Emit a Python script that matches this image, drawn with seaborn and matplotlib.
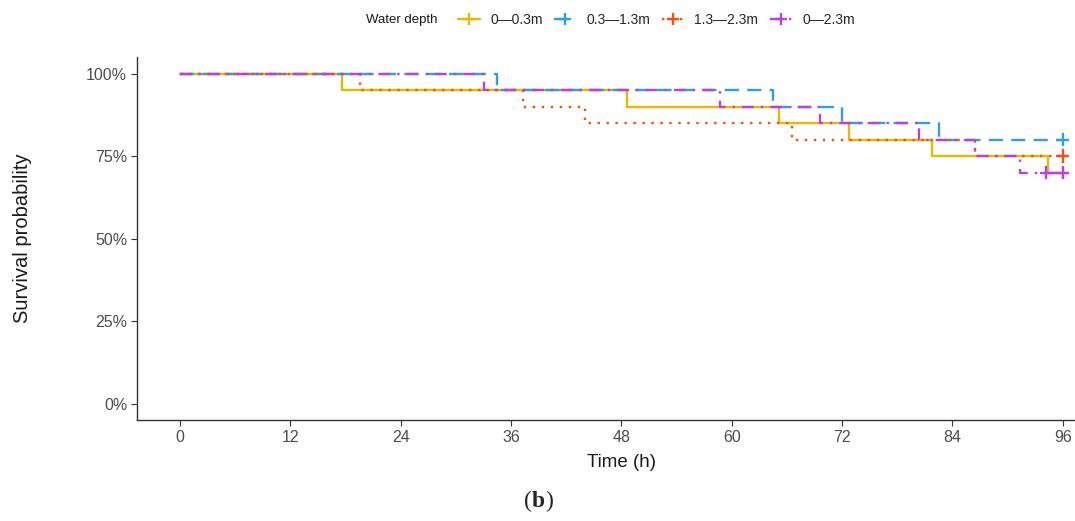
import numpy as np
import pandas as pd
import matplotlib
matplotlib.use("Agg")
import matplotlib.pyplot as plt
from matplotlib.lines import Line2D
import seaborn as sns

# Kaplan-Meier step curves: event times (h) and survival (%) per water-depth group
groups = ["0\u20140.3m", "0.3\u20141.3m", "1.3\u20142.3m", "0\u20142.3m"]

time_a = [0, 17.6, 48.6, 65.1, 72.7, 81.8, 94.4, 96]
surv_a = [100, 95, 90, 85, 80, 75, 70, 70]

time_b = [0, 34.5, 64.5, 72.0, 82.5, 96]
surv_b = [100, 95, 90, 85, 80, 80]

time_c = [0, 19.6, 37.3, 44.0, 66.6, 86.4, 96]
surv_c = [100, 95, 90, 85, 80, 75, 75]

time_d = [0, 33.0, 58.7, 69.6, 80.4, 86.4, 91.3, 96]
surv_d = [100, 95, 90, 85, 80, 75, 70, 70]

# censoring marks
cens_group = ["0\u20140.3m", "0.3\u20141.3m", "1.3\u20142.3m", "0\u20142.3m", "0\u20142.3m"]
cens_time = [96, 96, 96, 94.2, 96]
cens_surv = [70, 80, 75, 70, 70]

y_ticks = [0, 25, 50, 75, 100]
x_ticks = [0, 12, 24, 36, 48, 60, 72, 84, 96]

colors = ["#E7B800", "#2E9FDF", "#FC4E07", "#BE3FDB"]
palette = dict(zip(groups, colors))
dash_b = (6, 3.5)
dash_c = (1, 2.8)
dash_d = (5, 3, 1, 3)
dashes = {groups[0]: "", groups[1]: dash_b, groups[2]: dash_c, groups[3]: dash_d}

frames = []
for g, t, s in zip(groups, [time_a, time_b, time_c, time_d],
                   [surv_a, surv_b, surv_c, surv_d]):
    frames.append(pd.DataFrame({"time": t, "surv": s, "group": g}))
curves = pd.DataFrame(pd.concat(frames, ignore_index=True))
cens = pd.DataFrame({"time": cens_time, "surv": cens_surv, "group": cens_group})

sns.set_style("white")
plt.rcParams["font.family"] = ["Liberation Sans", "DejaVu Sans"]

fig = plt.figure(figsize=(10.75, 5.21), dpi=100)
# the panel runs on past the right edge of the canvas
ax = fig.add_axes([0.1274, 0.1939, 0.9023, 0.6967])

sns.lineplot(data=curves, x="time", y="surv", hue="group", style="group",
             hue_order=groups, style_order=groups, palette=palette,
             dashes=dashes, estimator=None, sort=False, drawstyle="steps-post",
             linewidth=1.7, legend=False, ax=ax)
sns.scatterplot(data=cens, x="time", y="surv", hue="group", hue_order=groups,
                palette=palette, marker="+", s=90, linewidth=1.7,
                legend=False, ax=ax, zorder=5)

ax.set_xlim(-4.7, 100.8)
ax.set_ylim(-4.9, 105)
ax.set_xticks(x_ticks)
ax.set_yticks(y_ticks)
ax.set_xticklabels([str(v) for v in x_ticks])
ax.set_yticklabels([f"{v}%" for v in y_ticks])
ax.tick_params(axis="both", which="both", direction="out", length=4, width=0.8,
               color="#333333", labelsize=11.5, labelcolor="#4D4D4D", pad=3,
               bottom=True, left=True)
for side in ["top", "right"]:
    ax.spines[side].set_visible(False)
for side in ["left", "bottom"]:
    ax.spines[side].set_color("#333333")
    ax.spines[side].set_linewidth(1.0)
ax.set_xlabel("Time (h)", fontsize=13.5, labelpad=7, color="#1a1a1a")
ax.set_ylabel("Survival probability", fontsize=14.5, labelpad=39, color="#1a1a1a")

# legend along the top
handles = [Line2D([0], [0], color=c, linestyle="-", linewidth=1.7,
                  marker="+", markersize=9, markeredgewidth=1.7)
           for c in colors]
handles[1].set_dashes(dash_b)
handles[2].set_dashes(dash_c)
handles[3].set_dashes(dash_d)
fig.text(0.34, 0.962, "Water depth", fontsize=9.5, color="#1a1a1a",
         ha="left", va="center")
fig.legend(handles=handles, labels=groups, loc="center left",
           bbox_to_anchor=(0.426, 0.962), ncol=4, frameon=False,
           fontsize=10.0, handlelength=1.6, handletextpad=0.75,
           columnspacing=0.8, borderaxespad=0, borderpad=0)

# panel tag
fig.text(0.4945, 0.038, "(", fontsize=17, family="Liberation Serif",
         ha="right", va="center")
fig.text(0.4945, 0.038, "b", fontsize=17, family="Liberation Serif",
         fontweight="bold", ha="left", va="center")
fig.text(0.5075, 0.038, ")", fontsize=17, family="Liberation Serif",
         ha="left", va="center")

fig.savefig("out.png", dpi=100)
